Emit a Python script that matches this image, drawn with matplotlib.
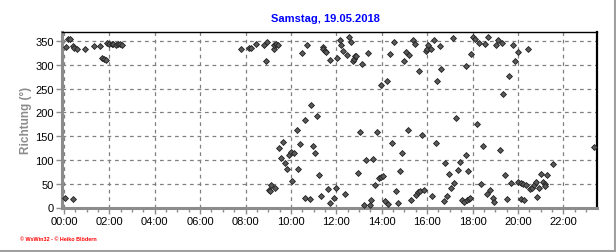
import matplotlib
matplotlib.use('Agg')
import matplotlib.pyplot as plt
from matplotlib.ticker import MultipleLocator, FuncFormatter
from matplotlib.lines import Line2D

# time of day in minutes, wind direction in degrees
minutes = [2, 5, 11, 17, 23, 25, 28, 34, 56, 80, 96, 101, 107, 111, 113, 119,
           126, 131, 137, 142, 147, 154,
           469, 490, 495, 508, 529, 535, 537, 541, 545, 548, 555, 556, 558, 560,
           565, 569, 574, 580, 585, 590, 594, 599, 603, 609, 615, 619, 625, 630,
           636, 638, 643, 651, 654, 659, 664, 670, 675, 680, 684, 686, 690, 692,
           699, 703, 704, 715, 719, 722, 730, 733, 738, 743, 749, 754, 759, 765,
           767, 770, 773, 778, 783, 788, 794, 799, 804, 809, 812, 818, 823, 827,
           833, 838, 839, 844, 849, 854, 857, 862, 868, 873, 878, 884, 889, 894,
           899, 903, 910, 913, 918, 923, 929, 931, 936, 939, 942, 947, 953, 958,
           960, 963, 969, 973, 979, 984, 987, 994, 997, 1005, 1007, 1013, 1018,
           1024, 1029, 1032, 1037, 1042, 1047, 1052, 1058, 1063, 1064, 1065, 1069,
           1071, 1074, 1076, 1082, 1087, 1093, 1098, 1103, 1108, 1114, 1119, 1121,
           1126, 1135, 1137, 1143, 1148, 1153, 1158, 1161, 1166, 1172, 1177, 1183,
           1188, 1193, 1199, 1201, 1207, 1208, 1214, 1217, 1222, 1227, 1233, 1237,
           1243, 1248, 1251, 1256, 1262, 1267, 1271, 1272, 1277, 1293, 1401]
direction = [19, 337, 354, 354, 339, 17, 335, 333, 334, 339, 339, 315, 313, 311, 345, 343,
             343, 343, 342, 343, 343, 342,
             334, 336, 336, 343, 341, 307, 349, 36, 34, 47, 334, 341, 40, 343,
             341, 126, 105, 137, 93, 80, 111, 117, 56, 114, 164, 81, 133, 324,
             19, 183, 341, 18, 215, 129, 114, 192, 68, 24, 337, 333, 330, 326,
             38, 10, 311, 21, 40, 315, 353, 341, 330, 29, 320, 358, 347, 309,
             313, 318, 319, 72, 158, 301, 6, 100, 324, 5, 15, 103, 47, 158,
             62, 64, 257, 66, 14, 267, 7, 322, 135, 349, 34, 9, 76, 114,
             309, 328, 163, 320, 15, 353, 343, 27, 32, 288, 35, 152, 36, 330,
             334, 341, 334, 24, 353, 135, 265, 339, 292, 14, 93, 24, 70,
             40, 357, 51, 189, 78, 95, 16, 12, 297, 110, 15, 76,
             18, 20, 322, 359, 354, 175, 345, 49, 129, 343, 28, 358,
             37, 21, 11, 341, 353, 120, 345, 238, 68, 17, 276, 51,
             341, 307, 328, 54, 18, 52, 49, 16, 48, 334, 38, 41,
             47, 54, 23, 40, 70, 54, 49, 46, 68, 92, 127]

title = 'Samstag, 19.05.2018'
ylabel = 'Richtung (°)'
footer = '© WsWin32 - © Heiko Blödern'

plt.rcParams['font.family'] = ['Liberation Sans', 'DejaVu Sans']

fig = plt.figure(figsize=(6.16, 2.53), dpi=100)
ax = fig.add_axes([62 / 616, 44.5 / 253, 535 / 616, 175.5 / 253])

ax.scatter(minutes, direction, marker='D', s=9, facecolor='#5a5a5a',
           edgecolor='#202020', linewidths=0.6, zorder=3, clip_on=False)

ax.set_xlim(-5, 1409)
ax.set_ylim(0, 369)

ax.xaxis.set_major_locator(MultipleLocator(120))
ax.xaxis.set_minor_locator(MultipleLocator(30))
ax.xaxis.set_major_formatter(FuncFormatter(lambda v, p: '%02d:%02d' % (v // 60, v % 60)))
ax.yaxis.set_major_locator(MultipleLocator(50))

ax.grid(True, which='major', color='#808080', linestyle=(0, (3, 3)), linewidth=0.9)
ax.set_axisbelow(True)

for side in ['left', 'bottom']:
    ax.spines[side].set_color('#8c8c8c')
    ax.spines[side].set_linewidth(2.2)
ax.spines['top'].set_color('black')
ax.spines['top'].set_linewidth(1)
ax.spines['right'].set_color('black')
ax.spines['right'].set_linewidth(1.6)

ax.tick_params(axis='both', which='major', labelsize=8, colors='#8c8c8c',
               labelcolor='black', length=4, width=1, pad=2)
ax.tick_params(axis='x', which='minor', colors='#8c8c8c', length=3, width=1)

ax.set_ylabel(ylabel, fontsize=8.5, fontweight='bold', color='#8c8c8c', labelpad=2)

fig.text(325 / 616, 1 - 19 / 253, title, ha='center', va='center',
         fontsize=8, fontweight='bold', color='#0000ff')
fig.text(20 / 616, 1 - 240 / 253, footer, ha='left', va='center',
         fontsize=3.9, fontweight='bold', color='#ff0000')

# shadow border at right and bottom of the picture
fig.add_artist(Line2D([0, 1], [1 / 253, 1 / 253], transform=fig.transFigure,
                      color='#a0a0a0', linewidth=1.5))
fig.add_artist(Line2D([1 - 1.5 / 616, 1 - 1.5 / 616], [0, 1], transform=fig.transFigure,
                      color='#a0a0a0', linewidth=1.5))

fig.savefig('out.png', dpi=100)
